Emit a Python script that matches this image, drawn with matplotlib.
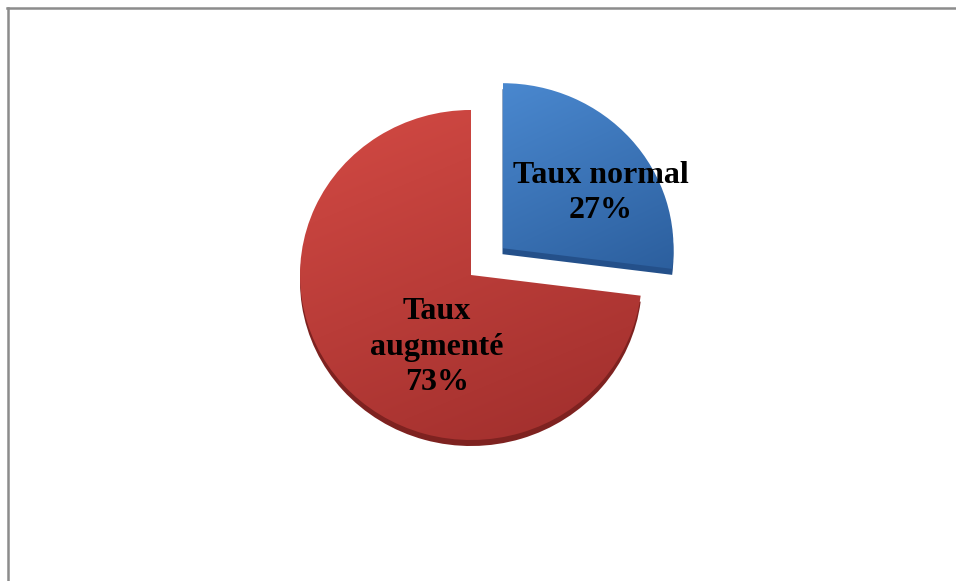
import numpy as np
import matplotlib
matplotlib.use("Agg")
import matplotlib.pyplot as plt
from matplotlib.lines import Line2D

categories = ["Taux normal", "Taux augmenté"]
values = [27, 73]
colors_top = ["#4a88cf", "#d34a44"]
colors_bottom = ["#2c5f9e", "#9f2e2c"]
depth_colors = ["#24508a", "#7e2220"]

W, H = 956, 581
TILT = 0.965  # slight vertical squash for a tilted disc
fig = plt.figure(figsize=(W / 100, H / 100), dpi=100)
ax = fig.add_axes([0, 0, 1, 1])

center = (471, 306 / TILT)
radius = 171
# pie explode offsets are in data units here
explode = [42, 0]

# extruded base (depth) drawn first, shifted downward
base, _ = ax.pie(values, startangle=90, counterclock=False, explode=explode,
                 center=(center[0], center[1] - 6 / TILT), radius=radius,
                 colors=depth_colors, frame=True,
                 wedgeprops=dict(linewidth=0))

wedges, _ = ax.pie(values, startangle=90, counterclock=False, explode=explode,
                   center=center, radius=radius, colors=colors_top, frame=True,
                   wedgeprops=dict(linewidth=0))


def hex_rgb(h):
    h = h.lstrip("#")
    return np.array([int(h[i:i + 2], 16) for i in (0, 2, 4)]) / 255.0


# diagonal shading across each face
yy, xx = np.mgrid[0:1:200j, 0:1:200j]
t = np.clip(0.7 * yy + 0.3 * xx, 0, 1)[..., None]
for w, ct, cb in zip(wedges, colors_top, colors_bottom):
    grad = hex_rgb(ct) * (1 - t) + hex_rgb(cb) * t
    ext = w.get_path().get_extents(w.get_patch_transform())
    w.set_facecolor("none")
    im = ax.imshow(grad, extent=(ext.x0, ext.x1, ext.y0, ext.y1),
                   origin="upper", zorder=w.get_zorder() + 0.1,
                   interpolation="bilinear", aspect="auto")
    im.set_clip_path(w)

ax.set_aspect("auto")
ax.set_xlim(0, W)
ax.set_ylim(0, H / TILT)
ax.axis("off")

# labels placed on each slice
label_pos = [(601, 388 / TILT), (437, 234 / TILT)]
for (x, y), cat, v in zip(label_pos, categories, values):
    txt = cat if cat != "Taux augmenté" else "Taux\naugmenté"
    ax.text(x, y, f"{txt}\n{v}%", ha="center", va="center",
            family="Liberation Serif", fontweight="bold", fontsize=23,
            linespacing=1.28, color="black", zorder=10)

# chart frame (top and left edges)
fig.add_artist(Line2D([7 / W, 1], [1 - 7.5 / H, 1 - 7.5 / H],
                      transform=fig.transFigure, color="#8c8c8c", lw=1.8))
fig.add_artist(Line2D([7.5 / W, 7.5 / W], [0, 1 - 7.5 / H],
                      transform=fig.transFigure, color="#8c8c8c", lw=1.8))

fig.savefig("out.png", dpi=100, facecolor="white")
